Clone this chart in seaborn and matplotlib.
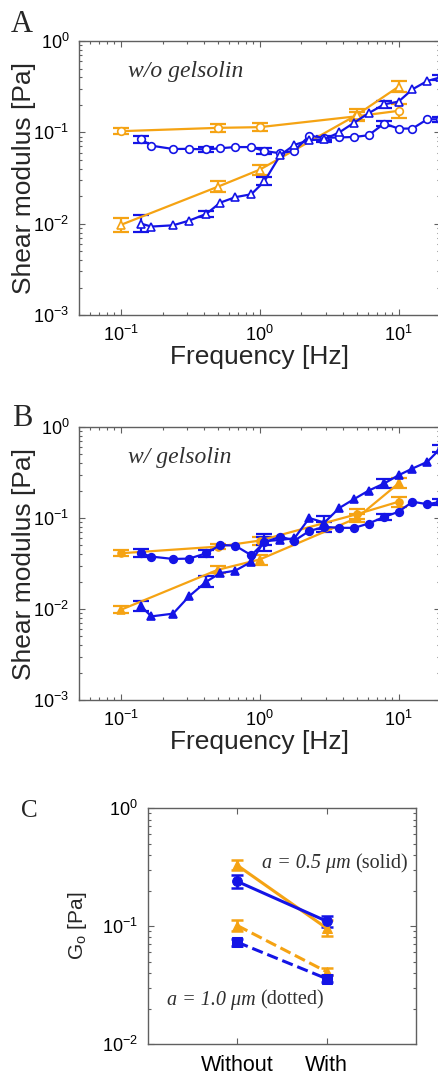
import numpy as np
import matplotlib
matplotlib.use("Agg")
import matplotlib.pyplot as plt
import seaborn as sns

sns.set_theme(style="ticks")
plt.rcParams['font.family'] = ['Liberation Sans', 'DejaVu Sans']
plt.rcParams['axes.unicode_minus'] = False

ORANGE = '#F5A313'
BLUE = '#1414E6'
SERIF = ['Liberation Serif', 'DejaVu Serif']

# frequencies [Hz]
f_orange = [0.1, 0.5, 1.0, 5.0, 10.0]
f_blue = [0.14, 0.166, 0.238, 0.31, 0.413, 0.52, 0.667, 0.87, 1.08, 1.41, 1.78,
          2.28, 2.92, 3.75, 4.8, 6.09, 7.89, 10.0, 12.6, 16.1, 20.0]

# panel A (w/o gelsolin); errors in decades, blue errors only at every 4th point
a_or_circ = [0.103, 0.112, 0.114, 0.15, 0.172]
a_or_circ_err = [0.036, 0.040, 0.044, 0.044, 0.075]
a_or_tri = [0.0097, 0.0254, 0.039, 0.155, 0.316]
a_or_tri_err = [0.077, 0.062, 0.055, 0.062, 0.058]
a_bl_circ = [0.084, 0.0715, 0.0657, 0.066, 0.065, 0.067, 0.069, 0.069, 0.0625, 0.059, 0.063,
             0.092, 0.087, 0.088, 0.089, 0.093, 0.125, 0.11, 0.11, 0.139, 0.139]
a_bl_circ_err = [0.036, 0.03, 0.03, 0.026, 0.026, 0.025]
a_bl_tri = [0.01, 0.0093, 0.0096, 0.0108, 0.0128, 0.017, 0.0195, 0.021, 0.029, 0.0565, 0.073,
            0.082, 0.084, 0.1, 0.128, 0.162, 0.203, 0.217, 0.296, 0.365, 0.4]
a_bl_tri_err = [0.095, 0.033, 0.044, 0.03, 0.04, 0.03]

# panel B (w/ gelsolin)
b_or_circ = [0.041, 0.0485, 0.0565, 0.11, 0.151]
b_or_circ_err = [0.033, 0.03, 0.044, 0.055, 0.055]
b_or_tri = [0.0098, 0.027, 0.035, 0.10, 0.24]
b_or_tri_err = [0.04, 0.036, 0.055, 0.044, 0.055]
b_bl_circ = [0.041, 0.0377, 0.0355, 0.0358, 0.041, 0.0506, 0.0497, 0.039, 0.054, 0.0625, 0.0565,
             0.072, 0.080, 0.078, 0.078, 0.087, 0.103, 0.117, 0.151, 0.142, 0.15]
b_bl_circ_err = [0.044, 0.036, 0.09, 0.055, 0.036, 0.03]
b_bl_tri = [0.0107, 0.0083, 0.0089, 0.0138, 0.020, 0.0248, 0.0264, 0.033, 0.0556, 0.0575, 0.060,
            0.1, 0.089, 0.129, 0.162, 0.2, 0.24, 0.295, 0.35, 0.414, 0.58]
b_bl_tri_err = [0.055, 0.062, 0.044, 0.073, 0.047, 0.036]

# panel C
groups = ['Without', 'With']
c_or_solid = [0.327, 0.096]
c_or_solid_err = [0.042, 0.065]
c_bl_solid = [0.239, 0.11]
c_bl_solid_err = [0.056, 0.048]
c_or_dash = [0.101, 0.041]
c_or_dash_err = [0.048, 0.028]
c_bl_dash = [0.073, 0.0358]
c_bl_dash_err = [0.03, 0.028]


def logerr(y, dec):
    y = np.asarray(y, float)
    d = np.asarray(dec, float)
    return [y - y * 10 ** (-d), y * 10 ** d - y]


def style_axes(ax):
    for s in ax.spines.values():
        s.set_color('#606060')
        s.set_linewidth(1.0)
    ax.tick_params(which='both', direction='in', top=True, right=True,
                   color='#606060', labelcolor='black', width=0.8)
    ax.tick_params(which='major', length=4, labelsize=13, pad=7)
    ax.tick_params(which='minor', length=2)


def freq_panel(ax, series, filled, label):
    for x, y, err, every, color, marker, ms in series:
        if every > 1:
            full = np.zeros(len(y))
            full[::every] = err
            err = full
        ax.errorbar(x, y, yerr=logerr(y, err), fmt='none', ecolor=color, elinewidth=1.6,
                    capsize=5.5, capthick=1.6, errorevery=every, zorder=2)
        sns.lineplot(x=x, y=y, ax=ax, color=color, marker=marker, markersize=ms,
                     markerfacecolor=color if filled else 'white', markeredgecolor=color,
                     markeredgewidth=1.2, linewidth=1.6, estimator=None, sort=False, zorder=3)
    ax.set_xscale('log')
    ax.set_yscale('log')
    ax.set_xlim(0.05, 20)
    ax.set_ylim(1e-3, 1)
    style_axes(ax)
    ax.set_xlabel('Frequency [Hz]', fontsize=19)
    ax.set_ylabel('Shear modulus [Pa]', fontsize=19)
    ax.xaxis.set_label_coords(0.5, -0.11)
    ax.yaxis.set_label_coords(-0.12, 0.5)
    ax.text(0.136, 0.89, label, transform=ax.transAxes, fontsize=17, style='italic',
            family=SERIF, color='#303030', va='center', ha='left')


def mixed_label(ax, x, y, ital, plain):
    t = ax.text(x, y, ital + ' ', transform=ax.transAxes, fontsize=14.5, style='italic',
                family=SERIF, color='#303030', va='center', ha='left')
    ax.annotate(plain, xy=(1, 0.5), xycoords=t, fontsize=14.5, family=SERIF,
                color='#303030', va='center', ha='left')


fig = plt.figure(figsize=(4.39, 10.74), dpi=100)

axA = fig.add_axes([0.180, 0.7067, 0.823, 0.2551])
freq_panel(axA, [
    (f_orange, a_or_circ, a_or_circ_err, 1, ORANGE, 'o', 5.5),
    (f_orange, a_or_tri, a_or_tri_err, 1, ORANGE, '^', 6),
    (f_blue, a_bl_circ, a_bl_circ_err, 4, BLUE, 'o', 5.5),
    (f_blue, a_bl_tri, a_bl_tri_err, 4, BLUE, '^', 5.5),
], filled=False, label='w/o gelsolin')

axB = fig.add_axes([0.180, 0.3482, 0.823, 0.2542])
freq_panel(axB, [
    (f_orange, b_or_circ, b_or_circ_err, 1, ORANGE, 'o', 5),
    (f_orange, b_or_tri, b_or_tri_err, 1, ORANGE, '^', 5.5),
    (f_blue, b_bl_circ, b_bl_circ_err, 4, BLUE, 'o', 5.5),
    (f_blue, b_bl_tri, b_bl_tri_err, 4, BLUE, '^', 5.5),
], filled=True, label='w/ gelsolin')

axC = fig.add_axes([0.337, 0.0279, 0.6105, 0.2197])
xc = [1, 2]
for y, err, color, marker, ls in [
    (c_or_solid, c_or_solid_err, ORANGE, '^', '-'),
    (c_or_dash, c_or_dash_err, ORANGE, '^', '--'),
    (c_bl_solid, c_bl_solid_err, BLUE, 'o', '-'),
    (c_bl_dash, c_bl_dash_err, BLUE, 's', '--'),
]:
    axC.errorbar(xc, y, yerr=logerr(y, err), fmt='none', ecolor=color, elinewidth=1.8,
                 capsize=4.5, capthick=1.8, zorder=2)
    sns.lineplot(x=xc, y=y, ax=axC, color=color, marker=marker, markersize=7,
                 markeredgecolor=color, linestyle=ls, linewidth=2.2, estimator=None,
                 sort=False, zorder=3)
axC.set_yscale('log')
axC.set_xlim(0, 3)
axC.set_ylim(1e-2, 1)
axC.set_xticks(xc)
axC.set_xticklabels(groups)
style_axes(axC)
axC.tick_params(axis='x', labelsize=15.5, pad=8)
axC.set_ylabel(r'G$_\mathregular{o}$ [Pa]', fontsize=15)
axC.yaxis.set_label_coords(-0.22, 0.5)
mixed_label(axC, 0.425, 0.763, 'a = 0.5 μm', '(solid)')
mixed_label(axC, 0.071, 0.186, 'a = 1.0 μm', '(dotted)')

fig.text(22 / 439, 1 - 25 / 1074, 'A', fontsize=22, family=SERIF, ha='center', va='center')
fig.text(22 / 439, 1 - 418 / 1074, 'B', fontsize=22, family=SERIF, ha='center', va='center')
fig.text(29 / 439, 1 - 811 / 1074, 'C', fontsize=18, family=SERIF, ha='center', va='center')

fig.savefig('out.png', dpi=100)
